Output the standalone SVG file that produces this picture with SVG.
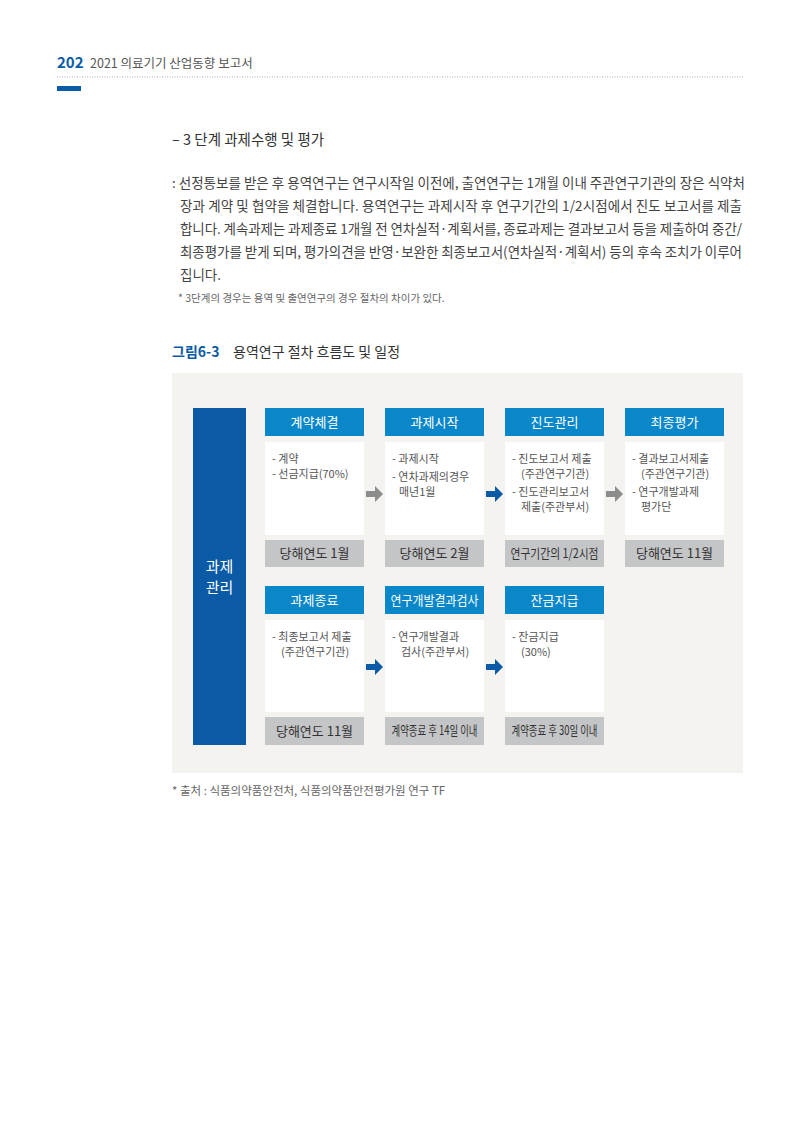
<svg xmlns="http://www.w3.org/2000/svg" width="800" height="1131" viewBox="0 0 800 1131">
<style>
text{font-family:"Noto Sans CJK KR","Noto Sans",sans-serif}
.hd{fill:#0a87c9}.ht{fill:#fff;font-size:13px;text-anchor:middle}
.bd{fill:#fff}.bt{fill:#555;font-size:11px}
.gy{fill:#c4c5c7}.gt{fill:#333;font-size:13px;text-anchor:middle}
.p{fill:#444;font-size:13.5px}
</style>
<rect width="800" height="1131" fill="#fff"/>
<text x="57" y="68" font-size="15" font-weight="bold" fill="#0b5aa6">202</text>
<text x="90" y="68" font-size="12.5" fill="#555">2021 의료기기 산업동향 보고서</text>
<line x1="57" y1="77" x2="743" y2="77" stroke="#aaa" stroke-dasharray="1,1.5"/>
<rect x="57" y="86" width="24" height="5" fill="#0b5aa6"/>
<text x="172" y="145" font-size="14.5" fill="#333">– 3 단계 과제수행 및 평가</text>
<text class="p" x="172" y="188">: 선정통보를 받은 후 용역연구는 연구시작일 이전에, 출연연구는 1개월 이내 주관연구기관의 장은 식약처</text>
<text class="p" x="180" y="211" textLength="562">장과 계약 및 협약을 체결합니다. 용역연구는 과제시작 후 연구기간의 1/2시점에서 진도 보고서를 제출</text>
<text class="p" x="180" y="234" textLength="562">합니다. 계속과제는 과제종료 1개월 전 연차실적·계획서를, 종료과제는 결과보고서 등을 제출하여 중간/</text>
<text class="p" x="180" y="257" textLength="562">최종평가를 받게 되며, 평가의견을 반영·보완한 최종보고서(연차실적·계획서) 등의 후속 조치가 이루어</text>
<text class="p" x="180" y="280">집니다.</text>
<text x="178" y="302" font-size="10.5" fill="#666">* 3단계의 경우는 용역 및 출연연구의 경우 절차의 차이가 있다.</text>
<text x="172" y="357" font-size="14" font-weight="bold" fill="#0b5aa6">그림6-3</text>
<text x="233" y="357" font-size="14" fill="#333">용역연구 절차 흐름도 및 일정</text>
<rect x="172" y="373" width="571" height="400" fill="#f4f3ef"/>
<g id="side"><rect x="193" y="408" width="53" height="337" fill="#0b5aa6"/>
<text x="219.5" y="572" font-size="15" fill="#fff" text-anchor="middle">과제</text>
<text x="219.5" y="593" font-size="15" fill="#fff" text-anchor="middle">관리</text></g>
<g id="n1"><rect class="hd" x="265" y="408" width="99" height="28"/><text class="ht" x="314.5" y="427">계약체결</text>
<rect class="bd" x="265" y="442" width="99" height="93"/><text class="bt" x="272" y="463">- 계약</text><text class="bt" x="272" y="478">- 선금지급(70%)</text>
<rect class="gy" x="265" y="540" width="99" height="27"/><text class="gt" x="314.5" y="558">당해연도 1월</text></g>
<g id="n2"><rect class="hd" x="385" y="408" width="99" height="28"/><text class="ht" x="434.5" y="427">과제시작</text>
<rect class="bd" x="385" y="442" width="99" height="93"/><text class="bt" x="392" y="463">- 과제시작</text><text class="bt" x="392" y="481">- 연차과제의경우</text><text class="bt" x="399" y="496">매년1월</text>
<rect class="gy" x="385" y="540" width="99" height="27"/><text class="gt" x="434.5" y="558">당해연도 2월</text></g>
<g id="n3"><rect class="hd" x="505" y="408" width="99" height="28"/><text class="ht" x="554.5" y="427">진도관리</text>
<rect class="bd" x="505" y="442" width="99" height="93"/><text class="bt" x="512" y="463">- 진도보고서 제출</text><text class="bt" x="521" y="478">(주관연구기관)</text><text class="bt" x="512" y="496">- 진도관리보고서</text><text class="bt" x="521" y="511">제출(주관부서)</text>
<rect class="gy" x="505" y="540" width="99" height="27"/><text class="gt" x="554.5" y="558" font-size="11" textLength="88" lengthAdjust="spacingAndGlyphs">연구기간의 1/2시점</text></g>
<g id="n4"><rect class="hd" x="625" y="408" width="99" height="28"/><text class="ht" x="674.5" y="427">최종평가</text>
<rect class="bd" x="625" y="442" width="99" height="93"/><text class="bt" x="632" y="463">- 결과보고서제출</text><text class="bt" x="641" y="478">(주관연구기관)</text><text class="bt" x="632" y="496">- 연구개발과제</text><text class="bt" x="641" y="511">평가단</text>
<rect class="gy" x="625" y="540" width="99" height="27"/><text class="gt" x="674.5" y="558">당해연도 11월</text></g>
<g id="n5"><rect class="hd" x="265" y="586" width="99" height="28"/><text class="ht" x="314.5" y="605">과제종료</text>
<rect class="bd" x="265" y="620" width="99" height="92"/><text class="bt" x="272" y="641">- 최종보고서 제출</text><text class="bt" x="281" y="656">(주관연구기관)</text>
<rect class="gy" x="265" y="717" width="99" height="28"/><text class="gt" x="314.5" y="736">당해연도 11월</text></g>
<g id="n6"><rect class="hd" x="385" y="586" width="99" height="28"/><text class="ht" x="434.5" y="605" font-size="12" textLength="88" lengthAdjust="spacingAndGlyphs">연구개발결과검사</text>
<rect class="bd" x="385" y="620" width="99" height="92"/><text class="bt" x="392" y="641">- 연구개발결과</text><text class="bt" x="401" y="656">검사(주관부서)</text>
<rect class="gy" x="385" y="717" width="99" height="28"/><text class="gt" x="434.5" y="735" font-size="10.5" textLength="86" lengthAdjust="spacingAndGlyphs">계약종료 후 14일 이내</text></g>
<g id="n7"><rect class="hd" x="505" y="586" width="99" height="28"/><text class="ht" x="554.5" y="605">잔금지급</text>
<rect class="bd" x="505" y="620" width="99" height="92"/><text class="bt" x="512" y="641">- 잔금지급</text><text class="bt" x="521" y="656">(30%)</text>
<rect class="gy" x="505" y="717" width="99" height="28"/><text class="gt" x="554.5" y="735" font-size="10.5" textLength="86" lengthAdjust="spacingAndGlyphs">계약종료 후 30일 이내</text></g>
<g id="connectors">
<path d="M366 491h9v-5l8 8l-8 8v-5h-9z" fill="#8c8c8c"/>
<path d="M486 491h9v-5l8 8l-8 8v-5h-9z" fill="#0b5aa6"/>
<path d="M606 491h9v-5l8 8l-8 8v-5h-9z" fill="#8c8c8c"/>
<path d="M366 664h9v-5l8 8l-8 8v-5h-9z" fill="#0b5aa6"/>
<path d="M486 664h9v-5l8 8l-8 8v-5h-9z" fill="#0b5aa6"/>
</g>
<text x="172" y="795" font-size="11.5" fill="#666">* 출처 : 식품의약품안전처, 식품의약품안전평가원 연구 TF</text>
</svg>
